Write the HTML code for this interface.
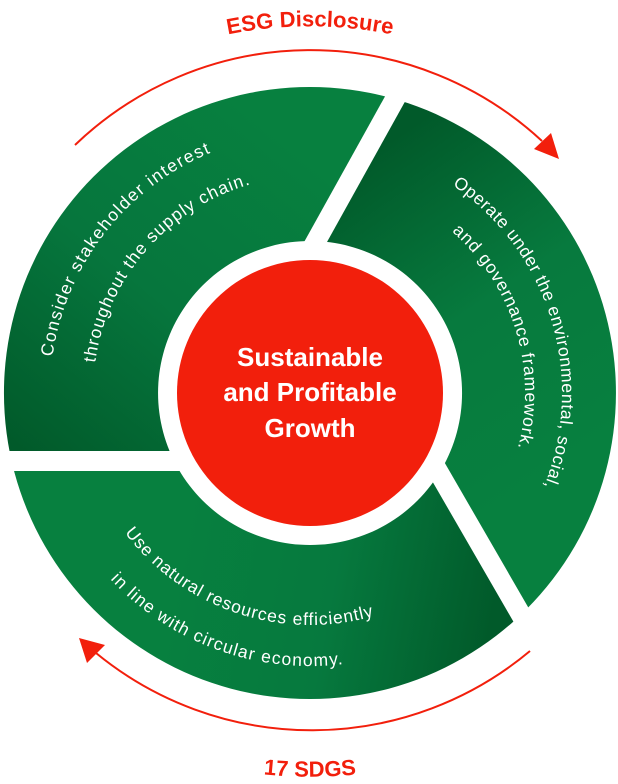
<!DOCTYPE html>
<html><head><style>
html,body{margin:0;padding:0;background:#fff;}
svg{display:block;}
text{font-family:"Liberation Sans",sans-serif;}
</style></head><body>
<svg width="618" height="784" viewBox="0 0 618 784" xmlns="http://www.w3.org/2000/svg">
<defs>
<linearGradient id="gTL" gradientUnits="userSpaceOnUse" x1="20" y1="450" x2="280" y2="130">
<stop offset="0" stop-color="#015a2a"/><stop offset="0.5" stop-color="#06763d"/><stop offset="1" stop-color="#07803f"/></linearGradient>
<linearGradient id="gR" gradientUnits="userSpaceOnUse" x1="390" y1="140" x2="600" y2="450">
<stop offset="0" stop-color="#015a2a"/><stop offset="0.5" stop-color="#077a3e"/><stop offset="1" stop-color="#07803f"/></linearGradient>
<linearGradient id="gB" gradientUnits="userSpaceOnUse" x1="500" y1="580" x2="180" y2="520">
<stop offset="0" stop-color="#015a2a"/><stop offset="0.5" stop-color="#06793e"/><stop offset="1" stop-color="#07803f"/></linearGradient>
<clipPath id="cTL"><polygon points="0,0 450,0 312,248 193,461 0,461"/></clipPath>
<clipPath id="cR"><polygon points="450,0 618,0 618,785 312,248"/></clipPath>
<clipPath id="cB"><polygon points="0,461 433,461 618,785 0,784"/></clipPath>
<path id="ring" d="M310 87 A306 306 0 1 1 309.9 87 Z M310 241 A152 152 0 1 0 310.1 241 Z"/>
<path id="tl1" d="M52.5 356.8 A260 260 0 0 1 264.9 136.9"/>
<path id="tl2" d="M95.1 362.8 A217 217 0 0 1 291.1 176.8"/>
<path id="r1" d="M452.4 185.1 A252 252 0 0 1 528.2 519"/>
<path id="r2" d="M451.9 231.5 A215 215 0 0 1 504.9 483.9"/>
<path id="b1" d="M124.7 532.6 A232 232 0 0 0 408 603.3"/>
<path id="b2" d="M110.3 579.2 A273 273 0 0 0 380.7 656.7"/>
<path id="tt" d="M150 58 A420 420 0 0 1 470 58"/>
<path id="bt" d="M180 758 A460 460 0 0 0 440 758"/>
</defs>
<use href="#ring" fill="url(#gTL)" fill-rule="evenodd" clip-path="url(#cTL)"/>
<use href="#ring" fill="url(#gR)" fill-rule="evenodd" clip-path="url(#cR)"/>
<use href="#ring" fill="url(#gB)" fill-rule="evenodd" clip-path="url(#cB)"/>
<g stroke="#fff" stroke-width="20" fill="none">
<line x1="-10" y1="461" x2="200" y2="461"/>
<line x1="425" y1="45" x2="300" y2="270"/>
<line x1="420" y1="440" x2="550" y2="665"/>
</g>
<circle cx="310" cy="393" r="133" fill="#f21f0c"/>
<g fill="#fff" font-weight="bold" font-size="26" text-anchor="middle">
<text x="310" y="366">Sustainable</text>
<text x="310" y="401">and Profitable</text>
<text x="310" y="437">Growth</text>
</g>
<g fill="#fff" font-size="17.5">
<text><textPath href="#tl1" textLength="270" lengthAdjust="spacing">Consider stakeholder interest</textPath></text>
<text><textPath href="#tl2" textLength="250" lengthAdjust="spacing">throughout the supply chain.</textPath></text>
<text><textPath href="#r1" textLength="340" lengthAdjust="spacing">Operate under the environmental, social,</textPath></text>
<text><textPath href="#r2" textLength="238" lengthAdjust="spacing">and governance framework.</textPath></text>
<text><textPath href="#b1" textLength="279" lengthAdjust="spacing">Use natural resources efficiently</textPath></text>
<text><textPath href="#b2" textLength="257" lengthAdjust="spacing">in line with circular economy.</textPath></text>
</g>
<g stroke="#f21f0c" stroke-width="2" fill="none">
<path d="M75 145 A340 340 0 0 1 542 141"/>
<path d="M530 651 A340 340 0 0 1 96 653"/>
</g>
<polygon points="559,159 534,149 551,133" fill="#f21f0c"/>
<polygon points="79,638 87,663 105,645" fill="#f21f0c"/>
<g fill="#f21f0c" font-weight="bold" font-size="22">
<text text-anchor="middle"><textPath href="#tt" startOffset="50%">ESG Disclosure</textPath></text>
<text text-anchor="middle"><textPath href="#bt" startOffset="50%">17 SDGS</textPath></text>
</g>
</svg>
</body></html>
